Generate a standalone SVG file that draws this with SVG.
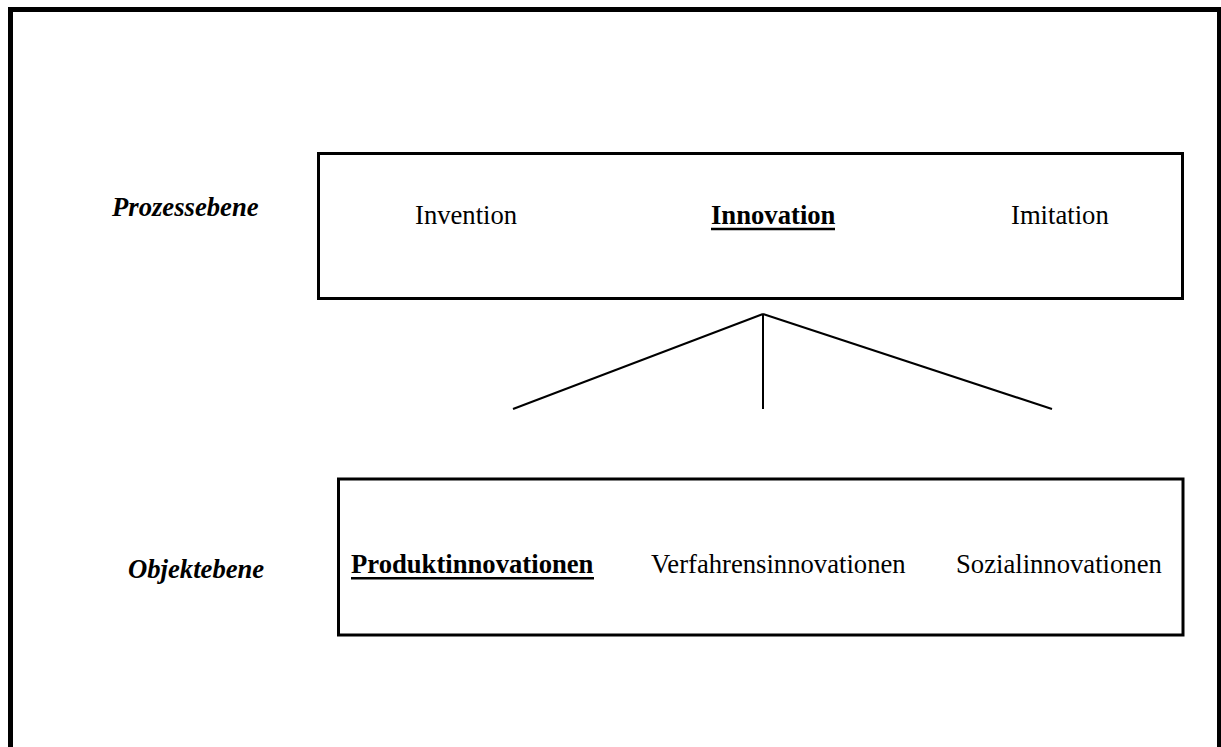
<svg xmlns="http://www.w3.org/2000/svg" width="1221" height="747" viewBox="0 0 1221 747">
  <style>
    .frame { fill: none; stroke: #000; stroke-width: 5; }
    .box { fill: #fff; stroke: #000; stroke-width: 3; }
    .link { fill: none; stroke: #000; stroke-width: 2; }
    .ul { stroke: #000; stroke-width: 2.6; }
    text { font-family: "Liberation Serif", "Times New Roman", serif; font-size: 26.67px; fill: #000; }
    .level { font-weight: bold; font-style: italic; }
    .bold { font-weight: bold; }
  </style>
  <rect width="1221" height="747" fill="#fff"/>

  <!-- outer frame, open at the bottom edge -->
  <path class="frame" d="M10.5,747 V9.5 H1219.5 V747"/>

  <!-- level labels -->
  <text class="level" x="112" y="216">Prozessebene</text>
  <text class="level" x="128" y="578">Objektebene</text>

  <!-- process level -->
  <g id="process">
    <rect class="box" x="318.5" y="153.5" width="864" height="145"/>
    <text x="415" y="224">Invention</text>
    <text class="bold" x="711" y="224">Innovation</text>
    <line class="ul" x1="711" y1="229" x2="835" y2="229"/>
    <text x="1011" y="224">Imitation</text>
  </g>

  <!-- object level -->
  <g id="object">
    <rect class="box" x="338.5" y="479" width="844.5" height="156"/>
    <text class="bold" x="351" y="573">Produktinnovationen</text>
    <line class="ul" x1="351" y1="578.3" x2="594" y2="578.3"/>
    <text x="651" y="573">Verfahrensinnovationen</text>
    <text x="956" y="573">Sozialinnovationen</text>
  </g>

  <!-- branching connectors -->
  <g id="connectors">
    <line class="link" x1="763" y1="314" x2="513" y2="409"/>
    <line class="link" x1="763" y1="314" x2="763" y2="409"/>
    <line class="link" x1="763" y1="314" x2="1052" y2="409"/>
  </g>
</svg>
